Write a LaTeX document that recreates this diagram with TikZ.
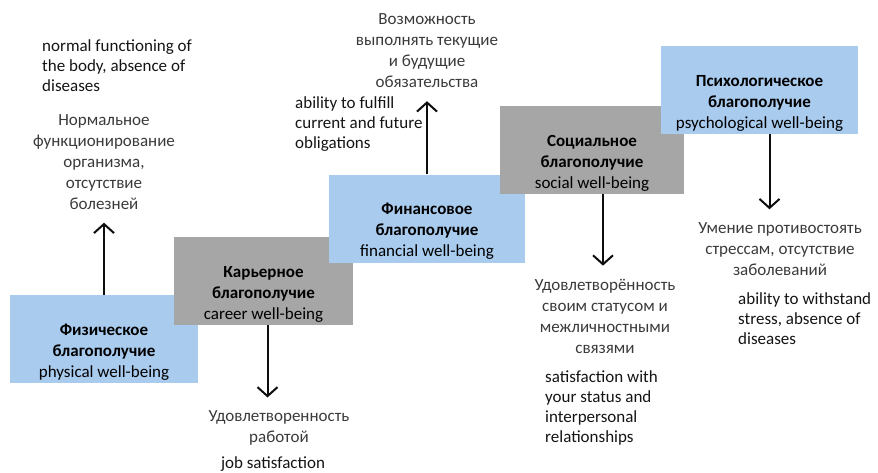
\documentclass[tikz,border=0pt]{standalone}
\usepackage{fontspec}
\setmainfont{Carlito}
\usepackage{tikz}
\usetikzlibrary{arrows.meta,positioning}
\definecolor{wbblue}{HTML}{A9CBEE}
\definecolor{wbgray}{HTML}{A6A6A6}
\definecolor{rutext}{HTML}{3A3A3A}
\definecolor{entext}{HTML}{141414}

\begin{document}
\begin{tikzpicture}[x=1pt, y=-1pt,
  every node/.style={font=\fontsize{17}{21}\selectfont, inner sep=0pt},
  levelbox/.style={minimum width=#1, minimum height=88pt},
  bluebox/.style={levelbox=#1, fill=wbblue},
  graybox/.style={levelbox=#1, fill=wbgray},
  boxtext/.style={align=center, text=black},
  rulabel/.style={align=center, text=rutext},
  enlabel/.style={align=left, text=entext, anchor=west, font=\fontsize{17}{20}\selectfont},
  arr/.style={line width=2pt, draw=black!95, shorten >=13pt,
    -{Straight Barb[length=9pt, width=20pt, line width=2pt]}}]
  \useasboundingbox (0,0) rectangle (878,472);

  % steps, drawn from the bottom one up so that each covers the last
  \node[bluebox=188pt] (phys) at (104,339) {};
  \node[boxtext, above=3pt of phys.south] (physT)
    {\textbf{Физическое}\\\textbf{благополучие}\\physical well-being};
  \node[graybox=179pt] (career) at (263.5,281) {};
  \node[boxtext, above=3pt of career.south] (careerT)
    {\textbf{Карьерное}\\\textbf{благополучие}\\career well-being};
  \node[bluebox=196pt] (fin) at (427,218.5) {};
  \node[boxtext, above=3pt of fin.south] (finT)
    {\textbf{Финансовое}\\\textbf{благополучие}\\financial well-being};
  \node[graybox=184pt] (soc) at (592,150) {};
  \node[boxtext, above=3pt of soc.south] (socT)
    {\textbf{Социальное}\\\textbf{благополучие}\\social well-being};
  \node[bluebox=197pt] (psych) at (759.5,90) {};
  \node[boxtext, above=3pt of psych.south] (psychT)
    {\textbf{Психологическое}\\\textbf{благополучие}\\psychological well-being};

  % what each step gives
  \node[rulabel] (physRu) at (104,162)
    {Нормальное\\функционирование\\организма,\\отсутствие\\болезней};
  \node[enlabel] (physEn) at (42,66)
    {normal functioning of\\the body, absence of\\diseases};
  \node[rulabel] (careerRu) at (279,428) {Удовлетворенность\\работой};
  \node[enlabel, anchor=center] (careerEn) at (273,464) {job satisfaction};
  \node[rulabel] (finRu) at (427,51)
    {Возможность\\выполнять текущие\\и будущие\\обязательства};
  \node[enlabel] (finEn) at (295,124)
    {ability to fulfill\\current and future\\obligations};
  \node[rulabel] (socRu) at (605,316)
    {Удовлетворённость\\своим статусом и\\межличностными\\связями};
  \node[enlabel] (socEn) at (545,408)
    {satisfaction with\\your status and\\interpersonal\\relationships};
  \node[rulabel] (psychRu) at (780,249)
    {Умение противостоять\\стрессам, отсутствие\\заболеваний};
  \node[enlabel] (psychEn) at (738,319)
    {ability to withstand\\stress, absence of\\diseases};

  \draw[arr] (phys.north) -- (phys.north |- physRu.south);
  \draw[arr] ([xshift=4pt]career.south) -- ([xshift=4pt]career.south |- careerRu.north);
  \draw[arr] (fin.north) -- (fin.north |- finRu.south);
  \draw[arr] ([xshift=11pt]soc.south) -- ([xshift=11pt]soc.south |- socRu.north);
  \draw[arr] ([xshift=10pt]psych.south) -- ([xshift=10pt]psych.south |- psychRu.north);
\end{tikzpicture}
\end{document}
